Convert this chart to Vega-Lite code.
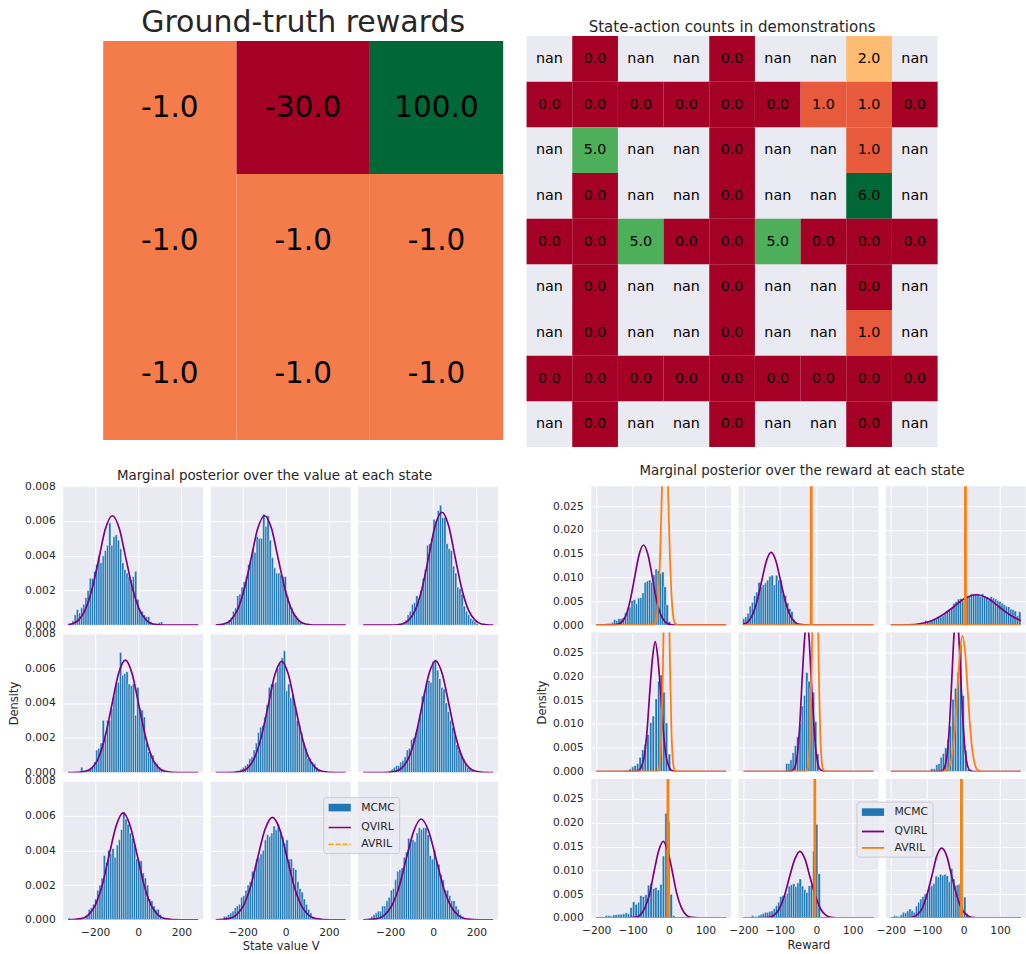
{
"$schema":"https://vega.github.io/schema/vega-lite/v6.json",
"background":"white",
"padding":{"left":8.2,"top":8,"right":0,"bottom":0},
"config":{
 "font":"DejaVu Sans",
 "view":{"stroke":null,"fill":"#eaeaf2"},
 "axis":{"domain":false,"ticks":false,"tickSize":0,"grid":true,"gridColor":"white","gridWidth":1,"gridOpacity":1,"labelFontSize":10.7,"labelColor":"#262626","labelFlush":false,"labelOverlap":false,"titleFontSize":11.5,"titleFontWeight":"normal","titleColor":"#262626"},
 "axisX":{"labelPadding":7.5,"titlePadding":4},
 "axisY":{"labelPadding":8,"titlePadding":5},
 "title":{"color":"#262626","fontWeight":"normal"}
},
"datasets":{
"gt":[{"r":0,"c":0,"v":-1,"t":"-1.0"},{"r":0,"c":1,"v":-30,"t":"-30.0"},{"r":0,"c":2,"v":100,"t":"100.0"},{"r":1,"c":0,"v":-1,"t":"-1.0"},{"r":1,"c":1,"v":-1,"t":"-1.0"},{"r":1,"c":2,"v":-1,"t":"-1.0"},{"r":2,"c":0,"v":-1,"t":"-1.0"},{"r":2,"c":1,"v":-1,"t":"-1.0"},{"r":2,"c":2,"v":-1,"t":"-1.0"}],
"sa":[
{"r":0,"c":0,"v":null,"t":"nan"},{"r":0,"c":1,"v":0,"t":"0.0"},{"r":0,"c":2,"v":null,"t":"nan"},{"r":0,"c":3,"v":null,"t":"nan"},{"r":0,"c":4,"v":0,"t":"0.0"},{"r":0,"c":5,"v":null,"t":"nan"},{"r":0,"c":6,"v":null,"t":"nan"},{"r":0,"c":7,"v":2,"t":"2.0"},{"r":0,"c":8,"v":null,"t":"nan"},
{"r":1,"c":0,"v":0,"t":"0.0"},{"r":1,"c":1,"v":0,"t":"0.0"},{"r":1,"c":2,"v":0,"t":"0.0"},{"r":1,"c":3,"v":0,"t":"0.0"},{"r":1,"c":4,"v":0,"t":"0.0"},{"r":1,"c":5,"v":0,"t":"0.0"},{"r":1,"c":6,"v":1,"t":"1.0"},{"r":1,"c":7,"v":1,"t":"1.0"},{"r":1,"c":8,"v":0,"t":"0.0"},
{"r":2,"c":0,"v":null,"t":"nan"},{"r":2,"c":1,"v":5,"t":"5.0"},{"r":2,"c":2,"v":null,"t":"nan"},{"r":2,"c":3,"v":null,"t":"nan"},{"r":2,"c":4,"v":0,"t":"0.0"},{"r":2,"c":5,"v":null,"t":"nan"},{"r":2,"c":6,"v":null,"t":"nan"},{"r":2,"c":7,"v":1,"t":"1.0"},{"r":2,"c":8,"v":null,"t":"nan"},
{"r":3,"c":0,"v":null,"t":"nan"},{"r":3,"c":1,"v":0,"t":"0.0"},{"r":3,"c":2,"v":null,"t":"nan"},{"r":3,"c":3,"v":null,"t":"nan"},{"r":3,"c":4,"v":0,"t":"0.0"},{"r":3,"c":5,"v":null,"t":"nan"},{"r":3,"c":6,"v":null,"t":"nan"},{"r":3,"c":7,"v":6,"t":"6.0"},{"r":3,"c":8,"v":null,"t":"nan"},
{"r":4,"c":0,"v":0,"t":"0.0"},{"r":4,"c":1,"v":0,"t":"0.0"},{"r":4,"c":2,"v":5,"t":"5.0"},{"r":4,"c":3,"v":0,"t":"0.0"},{"r":4,"c":4,"v":0,"t":"0.0"},{"r":4,"c":5,"v":5,"t":"5.0"},{"r":4,"c":6,"v":0,"t":"0.0"},{"r":4,"c":7,"v":0,"t":"0.0"},{"r":4,"c":8,"v":0,"t":"0.0"},
{"r":5,"c":0,"v":null,"t":"nan"},{"r":5,"c":1,"v":0,"t":"0.0"},{"r":5,"c":2,"v":null,"t":"nan"},{"r":5,"c":3,"v":null,"t":"nan"},{"r":5,"c":4,"v":0,"t":"0.0"},{"r":5,"c":5,"v":null,"t":"nan"},{"r":5,"c":6,"v":null,"t":"nan"},{"r":5,"c":7,"v":0,"t":"0.0"},{"r":5,"c":8,"v":null,"t":"nan"},
{"r":6,"c":0,"v":null,"t":"nan"},{"r":6,"c":1,"v":0,"t":"0.0"},{"r":6,"c":2,"v":null,"t":"nan"},{"r":6,"c":3,"v":null,"t":"nan"},{"r":6,"c":4,"v":0,"t":"0.0"},{"r":6,"c":5,"v":null,"t":"nan"},{"r":6,"c":6,"v":null,"t":"nan"},{"r":6,"c":7,"v":1,"t":"1.0"},{"r":6,"c":8,"v":null,"t":"nan"},
{"r":7,"c":0,"v":0,"t":"0.0"},{"r":7,"c":1,"v":0,"t":"0.0"},{"r":7,"c":2,"v":0,"t":"0.0"},{"r":7,"c":3,"v":0,"t":"0.0"},{"r":7,"c":4,"v":0,"t":"0.0"},{"r":7,"c":5,"v":0,"t":"0.0"},{"r":7,"c":6,"v":0,"t":"0.0"},{"r":7,"c":7,"v":0,"t":"0.0"},{"r":7,"c":8,"v":0,"t":"0.0"},
{"r":8,"c":0,"v":null,"t":"nan"},{"r":8,"c":1,"v":0,"t":"0.0"},{"r":8,"c":2,"v":null,"t":"nan"},{"r":8,"c":3,"v":null,"t":"nan"},{"r":8,"c":4,"v":0,"t":"0.0"},{"r":8,"c":5,"v":null,"t":"nan"},{"r":8,"c":6,"v":null,"t":"nan"},{"r":8,"c":7,"v":0,"t":"0.0"},{"r":8,"c":8,"v":null,"t":"nan"}],
"vh":[
{"p":1,"x":-312,"y":0.0001},{"p":1,"x":-302,"y":0.00025},{"p":1,"x":-292,"y":0.0006},{"p":1,"x":-282,"y":0.0009},{"p":1,"x":-272,"y":0.0007},{"p":1,"x":-262,"y":0.001},{"p":1,"x":-252,"y":0.0012},{"p":1,"x":-242,"y":0.0016},{"p":1,"x":-232,"y":0.002},{"p":1,"x":-222,"y":0.0027},{"p":1,"x":-212,"y":0.0027},{"p":1,"x":-202,"y":0.0031},{"p":1,"x":-192,"y":0.0035},{"p":1,"x":-182,"y":0.004},{"p":1,"x":-172,"y":0.0036},{"p":1,"x":-162,"y":0.004},{"p":1,"x":-152,"y":0.0043},{"p":1,"x":-142,"y":0.0046},{"p":1,"x":-132,"y":0.0059},{"p":1,"x":-122,"y":0.0046},{"p":1,"x":-112,"y":0.0051},{"p":1,"x":-102,"y":0.0052},{"p":1,"x":-92,"y":0.0049},{"p":1,"x":-82,"y":0.0044},{"p":1,"x":-72,"y":0.0036},{"p":1,"x":-62,"y":0.0032},{"p":1,"x":-52,"y":0.003},{"p":1,"x":-42,"y":0.0028},{"p":1,"x":-32,"y":0.0026},{"p":1,"x":-22,"y":0.0028},{"p":1,"x":-12,"y":0.0031},{"p":1,"x":-2,"y":0.0015},{"p":1,"x":8,"y":0.0009},{"p":1,"x":18,"y":0.0008},{"p":1,"x":28,"y":0.0006},{"p":1,"x":38,"y":0.0005},{"p":1,"x":48,"y":0.0005},{"p":1,"x":58,"y":0.0002},{"p":1,"x":68,"y":0.0001},{"p":1,"x":78,"y":0.00005},{"p":1,"x":88,"y":0.0001},{"p":1,"x":98,"y":0.00015},{"p":1,"x":108,"y":0.0002},
{"p":2,"x":-312,"y":0.00005},{"p":2,"x":-302,"y":0.00005},{"p":2,"x":-292,"y":0.0001},{"p":2,"x":-282,"y":0.00015},{"p":2,"x":-272,"y":0.0002},{"p":2,"x":-262,"y":0.0003},{"p":2,"x":-252,"y":0.00045},{"p":2,"x":-242,"y":0.0008},{"p":2,"x":-232,"y":0.001},{"p":2,"x":-222,"y":0.0017},{"p":2,"x":-212,"y":0.0018},{"p":2,"x":-202,"y":0.0022},{"p":2,"x":-192,"y":0.0025},{"p":2,"x":-182,"y":0.0028},{"p":2,"x":-172,"y":0.0035},{"p":2,"x":-162,"y":0.0037},{"p":2,"x":-152,"y":0.0044},{"p":2,"x":-142,"y":0.0042},{"p":2,"x":-132,"y":0.0051},{"p":2,"x":-122,"y":0.005},{"p":2,"x":-112,"y":0.005},{"p":2,"x":-102,"y":0.0064},{"p":2,"x":-92,"y":0.0057},{"p":2,"x":-82,"y":0.0063},{"p":2,"x":-72,"y":0.0049},{"p":2,"x":-62,"y":0.0039},{"p":2,"x":-52,"y":0.0033},{"p":2,"x":-42,"y":0.003},{"p":2,"x":-32,"y":0.003},{"p":2,"x":-22,"y":0.0029},{"p":2,"x":-12,"y":0.0028},{"p":2,"x":-2,"y":0.0028},{"p":2,"x":8,"y":0.0017},{"p":2,"x":18,"y":0.0012},{"p":2,"x":28,"y":0.001},{"p":2,"x":38,"y":0.0007},{"p":2,"x":48,"y":0.0005},{"p":2,"x":58,"y":0.0003},{"p":2,"x":68,"y":0.0002},
{"p":3,"x":-146,"y":0.0001},{"p":3,"x":-136,"y":0.0002},{"p":3,"x":-126,"y":0.0003},{"p":3,"x":-116,"y":0.0006},{"p":3,"x":-106,"y":0.0008},{"p":3,"x":-96,"y":0.0012},{"p":3,"x":-86,"y":0.0013},{"p":3,"x":-76,"y":0.0017},{"p":3,"x":-66,"y":0.0014},{"p":3,"x":-56,"y":0.002},{"p":3,"x":-46,"y":0.0027},{"p":3,"x":-36,"y":0.0032},{"p":3,"x":-26,"y":0.0046},{"p":3,"x":-16,"y":0.0047},{"p":3,"x":-6,"y":0.005},{"p":3,"x":4,"y":0.0061},{"p":3,"x":14,"y":0.006},{"p":3,"x":24,"y":0.0066},{"p":3,"x":34,"y":0.0069},{"p":3,"x":44,"y":0.0062},{"p":3,"x":54,"y":0.0062},{"p":3,"x":64,"y":0.0047},{"p":3,"x":74,"y":0.0044},{"p":3,"x":84,"y":0.0043},{"p":3,"x":94,"y":0.0034},{"p":3,"x":104,"y":0.003},{"p":3,"x":114,"y":0.0022},{"p":3,"x":124,"y":0.0021},{"p":3,"x":134,"y":0.0018},{"p":3,"x":144,"y":0.0011},{"p":3,"x":154,"y":0.0008},{"p":3,"x":164,"y":0.0006},{"p":3,"x":174,"y":0.0004},{"p":3,"x":184,"y":0.0003},{"p":3,"x":194,"y":0.0002},{"p":3,"x":204,"y":0.0001},
{"p":4,"x":-262,"y":0.0003},{"p":4,"x":-252,"y":0.0001},{"p":4,"x":-242,"y":0.0001},{"p":4,"x":-232,"y":0.0001},{"p":4,"x":-222,"y":0.0002},{"p":4,"x":-212,"y":0.0003},{"p":4,"x":-202,"y":0.0006},{"p":4,"x":-192,"y":0.0013},{"p":4,"x":-182,"y":0.0014},{"p":4,"x":-172,"y":0.0017},{"p":4,"x":-162,"y":0.003},{"p":4,"x":-152,"y":0.002},{"p":4,"x":-142,"y":0.003},{"p":4,"x":-132,"y":0.003},{"p":4,"x":-122,"y":0.0037},{"p":4,"x":-112,"y":0.0044},{"p":4,"x":-102,"y":0.0051},{"p":4,"x":-92,"y":0.0052},{"p":4,"x":-82,"y":0.0069},{"p":4,"x":-72,"y":0.0056},{"p":4,"x":-62,"y":0.0057},{"p":4,"x":-52,"y":0.0058},{"p":4,"x":-42,"y":0.0051},{"p":4,"x":-32,"y":0.005},{"p":4,"x":-22,"y":0.0051},{"p":4,"x":-12,"y":0.0033},{"p":4,"x":-2,"y":0.0049},{"p":4,"x":8,"y":0.0037},{"p":4,"x":18,"y":0.0036},{"p":4,"x":28,"y":0.0032},{"p":4,"x":38,"y":0.0017},{"p":4,"x":48,"y":0.0012},{"p":4,"x":58,"y":0.0011},{"p":4,"x":68,"y":0.001},{"p":4,"x":78,"y":0.0006},{"p":4,"x":88,"y":0.0005},{"p":4,"x":98,"y":0.0003},{"p":4,"x":108,"y":0.0002},{"p":4,"x":118,"y":0.0001},
{"p":5,"x":-226,"y":0.0001},{"p":5,"x":-216,"y":0.0001},{"p":5,"x":-206,"y":0.0002},{"p":5,"x":-196,"y":0.0003},{"p":5,"x":-186,"y":0.0004},{"p":5,"x":-176,"y":0.0005},{"p":5,"x":-166,"y":0.0008},{"p":5,"x":-156,"y":0.0009},{"p":5,"x":-146,"y":0.0013},{"p":5,"x":-136,"y":0.0017},{"p":5,"x":-126,"y":0.0023},{"p":5,"x":-116,"y":0.0026},{"p":5,"x":-106,"y":0.0027},{"p":5,"x":-96,"y":0.0032},{"p":5,"x":-86,"y":0.0039},{"p":5,"x":-76,"y":0.0049},{"p":5,"x":-66,"y":0.0051},{"p":5,"x":-56,"y":0.0051},{"p":5,"x":-46,"y":0.0052},{"p":5,"x":-36,"y":0.006},{"p":5,"x":-26,"y":0.0063},{"p":5,"x":-16,"y":0.0066},{"p":5,"x":-6,"y":0.007},{"p":5,"x":4,"y":0.0047},{"p":5,"x":14,"y":0.0051},{"p":5,"x":24,"y":0.0043},{"p":5,"x":34,"y":0.0045},{"p":5,"x":44,"y":0.0038},{"p":5,"x":54,"y":0.003},{"p":5,"x":64,"y":0.0027},{"p":5,"x":74,"y":0.0023},{"p":5,"x":84,"y":0.0017},{"p":5,"x":94,"y":0.0014},{"p":5,"x":104,"y":0.0008},{"p":5,"x":114,"y":0.0008},{"p":5,"x":124,"y":0.0006},{"p":5,"x":134,"y":0.0005},{"p":5,"x":144,"y":0.0003},{"p":5,"x":154,"y":0.0001},
{"p":6,"x":-200,"y":0.0001},{"p":6,"x":-190,"y":0.0002},{"p":6,"x":-180,"y":0.0003},{"p":6,"x":-170,"y":0.0004},{"p":6,"x":-160,"y":0.0004},{"p":6,"x":-150,"y":0.0006},{"p":6,"x":-140,"y":0.0007},{"p":6,"x":-130,"y":0.0009},{"p":6,"x":-120,"y":0.0013},{"p":6,"x":-110,"y":0.0014},{"p":6,"x":-100,"y":0.0019},{"p":6,"x":-90,"y":0.002},{"p":6,"x":-80,"y":0.0023},{"p":6,"x":-70,"y":0.0027},{"p":6,"x":-60,"y":0.0032},{"p":6,"x":-50,"y":0.0044},{"p":6,"x":-40,"y":0.0046},{"p":6,"x":-30,"y":0.0052},{"p":6,"x":-20,"y":0.0053},{"p":6,"x":-10,"y":0.0052},{"p":6,"x":0,"y":0.0064},{"p":6,"x":10,"y":0.0065},{"p":6,"x":20,"y":0.0059},{"p":6,"x":30,"y":0.0054},{"p":6,"x":40,"y":0.0049},{"p":6,"x":50,"y":0.0048},{"p":6,"x":60,"y":0.004},{"p":6,"x":70,"y":0.0035},{"p":6,"x":80,"y":0.003},{"p":6,"x":90,"y":0.0026},{"p":6,"x":100,"y":0.0022},{"p":6,"x":110,"y":0.0016},{"p":6,"x":120,"y":0.0013},{"p":6,"x":130,"y":0.0011},{"p":6,"x":140,"y":0.0008},{"p":6,"x":150,"y":0.0005},{"p":6,"x":160,"y":0.0003},{"p":6,"x":170,"y":0.0002},{"p":6,"x":180,"y":0.0001},
{"p":7,"x":-320,"y":0.0001},{"p":7,"x":-267,"y":0.00005},{"p":7,"x":-257,"y":0.0001},{"p":7,"x":-247,"y":0.0001},{"p":7,"x":-237,"y":0.0003},{"p":7,"x":-227,"y":0.0006},{"p":7,"x":-217,"y":0.0007},{"p":7,"x":-207,"y":0.0009},{"p":7,"x":-197,"y":0.0012},{"p":7,"x":-187,"y":0.0017},{"p":7,"x":-177,"y":0.002},{"p":7,"x":-167,"y":0.0024},{"p":7,"x":-157,"y":0.0037},{"p":7,"x":-147,"y":0.0033},{"p":7,"x":-137,"y":0.004},{"p":7,"x":-127,"y":0.0038},{"p":7,"x":-117,"y":0.0041},{"p":7,"x":-107,"y":0.0036},{"p":7,"x":-97,"y":0.0043},{"p":7,"x":-87,"y":0.0046},{"p":7,"x":-77,"y":0.0052},{"p":7,"x":-67,"y":0.0062},{"p":7,"x":-57,"y":0.0058},{"p":7,"x":-47,"y":0.0055},{"p":7,"x":-37,"y":0.005},{"p":7,"x":-27,"y":0.0047},{"p":7,"x":-17,"y":0.0043},{"p":7,"x":-7,"y":0.0035},{"p":7,"x":3,"y":0.0034},{"p":7,"x":13,"y":0.0034},{"p":7,"x":23,"y":0.0027},{"p":7,"x":33,"y":0.0024},{"p":7,"x":43,"y":0.002},{"p":7,"x":53,"y":0.0012},{"p":7,"x":63,"y":0.0011},{"p":7,"x":73,"y":0.0008},{"p":7,"x":83,"y":0.0006},{"p":7,"x":93,"y":0.0006},{"p":7,"x":103,"y":0.0003},{"p":7,"x":113,"y":0.0001},{"p":7,"x":123,"y":0.0001},
{"p":8,"x":-284,"y":0.0002},{"p":8,"x":-274,"y":0.0002},{"p":8,"x":-264,"y":0.0003},{"p":8,"x":-254,"y":0.0004},{"p":8,"x":-244,"y":0.0005},{"p":8,"x":-234,"y":0.0007},{"p":8,"x":-224,"y":0.0008},{"p":8,"x":-214,"y":0.0009},{"p":8,"x":-204,"y":0.0013},{"p":8,"x":-194,"y":0.0014},{"p":8,"x":-184,"y":0.0017},{"p":8,"x":-174,"y":0.002},{"p":8,"x":-164,"y":0.0022},{"p":8,"x":-154,"y":0.0028},{"p":8,"x":-144,"y":0.0029},{"p":8,"x":-134,"y":0.0035},{"p":8,"x":-124,"y":0.0036},{"p":8,"x":-114,"y":0.0038},{"p":8,"x":-104,"y":0.004},{"p":8,"x":-94,"y":0.0046},{"p":8,"x":-84,"y":0.0049},{"p":8,"x":-74,"y":0.0048},{"p":8,"x":-64,"y":0.005},{"p":8,"x":-54,"y":0.0054},{"p":8,"x":-44,"y":0.0052},{"p":8,"x":-34,"y":0.0055},{"p":8,"x":-24,"y":0.0051},{"p":8,"x":-14,"y":0.0048},{"p":8,"x":-4,"y":0.0044},{"p":8,"x":6,"y":0.0046},{"p":8,"x":16,"y":0.0035},{"p":8,"x":26,"y":0.0035},{"p":8,"x":36,"y":0.003},{"p":8,"x":46,"y":0.0029},{"p":8,"x":56,"y":0.0022},{"p":8,"x":66,"y":0.0018},{"p":8,"x":76,"y":0.0016},{"p":8,"x":86,"y":0.0012},{"p":8,"x":96,"y":0.0009},{"p":8,"x":106,"y":0.0006},{"p":8,"x":116,"y":0.0004},{"p":8,"x":126,"y":0.0002},{"p":8,"x":136,"y":0.0001},
{"p":9,"x":-294,"y":0.0001},{"p":9,"x":-284,"y":0.0002},{"p":9,"x":-274,"y":0.0003},{"p":9,"x":-264,"y":0.0004},{"p":9,"x":-254,"y":0.0005},{"p":9,"x":-244,"y":0.0005},{"p":9,"x":-234,"y":0.0008},{"p":9,"x":-224,"y":0.0008},{"p":9,"x":-214,"y":0.0011},{"p":9,"x":-204,"y":0.0013},{"p":9,"x":-194,"y":0.0017},{"p":9,"x":-184,"y":0.0018},{"p":9,"x":-174,"y":0.0023},{"p":9,"x":-164,"y":0.0028},{"p":9,"x":-154,"y":0.0029},{"p":9,"x":-144,"y":0.003},{"p":9,"x":-134,"y":0.0036},{"p":9,"x":-124,"y":0.0039},{"p":9,"x":-114,"y":0.0047},{"p":9,"x":-104,"y":0.0045},{"p":9,"x":-94,"y":0.0046},{"p":9,"x":-84,"y":0.0045},{"p":9,"x":-74,"y":0.005},{"p":9,"x":-64,"y":0.0053},{"p":9,"x":-54,"y":0.0052},{"p":9,"x":-44,"y":0.0053},{"p":9,"x":-34,"y":0.0053},{"p":9,"x":-24,"y":0.0049},{"p":9,"x":-14,"y":0.0037},{"p":9,"x":-4,"y":0.0035},{"p":9,"x":6,"y":0.004},{"p":9,"x":16,"y":0.0034},{"p":9,"x":26,"y":0.0032},{"p":9,"x":36,"y":0.0026},{"p":9,"x":46,"y":0.0023},{"p":9,"x":56,"y":0.0017},{"p":9,"x":66,"y":0.0017},{"p":9,"x":76,"y":0.0014},{"p":9,"x":86,"y":0.0011},{"p":9,"x":96,"y":0.0011},{"p":9,"x":106,"y":0.0008},{"p":9,"x":116,"y":0.0006},{"p":9,"x":126,"y":0.0003},{"p":9,"x":136,"y":0.0002},{"p":9,"x":146,"y":0.0001}],
"vq":[
{"p":1,"x":-325,"y":0.00003},{"p":1,"x":-310,"y":0.00007},{"p":1,"x":-278,"y":0.00028},{"p":1,"x":-247,"y":0.00085},{"p":1,"x":-215,"y":0.00205},{"p":1,"x":-183,"y":0.00382},{"p":1,"x":-152,"y":0.00556},{"p":1,"x":-120,"y":0.0063},{"p":1,"x":-88,"y":0.00556},{"p":1,"x":-57,"y":0.00382},{"p":1,"x":-25,"y":0.00205},{"p":1,"x":7,"y":0.00085},{"p":1,"x":38,"y":0.00028},{"p":1,"x":70,"y":0.00007},{"p":1,"x":133,"y":0},{"p":1,"x":278,"y":0},
{"p":2,"x":-325,"y":0.00001},{"p":2,"x":-288,"y":0.00007},{"p":2,"x":-256,"y":0.00028},{"p":2,"x":-225,"y":0.00085},{"p":2,"x":-193,"y":0.00205},{"p":2,"x":-161,"y":0.00382},{"p":2,"x":-130,"y":0.00556},{"p":2,"x":-98,"y":0.0063},{"p":2,"x":-66,"y":0.00556},{"p":2,"x":-35,"y":0.00382},{"p":2,"x":-3,"y":0.00205},{"p":2,"x":29,"y":0.00085},{"p":2,"x":60,"y":0.00028},{"p":2,"x":92,"y":0.00007},{"p":2,"x":155,"y":0},{"p":2,"x":278,"y":0},
{"p":3,"x":-325,"y":0},{"p":3,"x":-206,"y":0},{"p":3,"x":-144,"y":0.00007},{"p":3,"x":-114,"y":0.00029},{"p":3,"x":-83,"y":0.00088},{"p":3,"x":-52,"y":0.00211},{"p":3,"x":-21,"y":0.00394},{"p":3,"x":9,"y":0.00574},{"p":3,"x":40,"y":0.0065},{"p":3,"x":71,"y":0.00574},{"p":3,"x":101,"y":0.00394},{"p":3,"x":132,"y":0.00211},{"p":3,"x":163,"y":0.00088},{"p":3,"x":194,"y":0.00029},{"p":3,"x":224,"y":0.00007},{"p":3,"x":278,"y":0},
{"p":4,"x":-325,"y":0},{"p":4,"x":-307,"y":0},{"p":4,"x":-245,"y":0.00007},{"p":4,"x":-214,"y":0.00028},{"p":4,"x":-183,"y":0.00088},{"p":4,"x":-153,"y":0.0021},{"p":4,"x":-122,"y":0.00392},{"p":4,"x":-91,"y":0.00571},{"p":4,"x":-60,"y":0.00647},{"p":4,"x":-29,"y":0.00571},{"p":4,"x":2,"y":0.00392},{"p":4,"x":33,"y":0.0021},{"p":4,"x":63,"y":0.00088},{"p":4,"x":94,"y":0.00028},{"p":4,"x":125,"y":0.00007},{"p":4,"x":187,"y":0},{"p":4,"x":278,"y":0},
{"p":5,"x":-325,"y":0},{"p":5,"x":-268,"y":0},{"p":5,"x":-206,"y":0.00007},{"p":5,"x":-175,"y":0.00028},{"p":5,"x":-144,"y":0.00087},{"p":5,"x":-113,"y":0.00208},{"p":5,"x":-81,"y":0.00388},{"p":5,"x":-50,"y":0.00565},{"p":5,"x":-19,"y":0.0064},{"p":5,"x":12,"y":0.00565},{"p":5,"x":43,"y":0.00388},{"p":5,"x":75,"y":0.00208},{"p":5,"x":106,"y":0.00087},{"p":5,"x":137,"y":0.00028},{"p":5,"x":168,"y":0.00007},{"p":5,"x":230,"y":0},{"p":5,"x":278,"y":0},
{"p":6,"x":-325,"y":0},{"p":6,"x":-237,"y":0},{"p":6,"x":-175,"y":0.00007},{"p":6,"x":-144,"y":0.00028},{"p":6,"x":-113,"y":0.00087},{"p":6,"x":-82,"y":0.00209},{"p":6,"x":-51,"y":0.0039},{"p":6,"x":-20,"y":0.00567},{"p":6,"x":11,"y":0.00643},{"p":6,"x":42,"y":0.00567},{"p":6,"x":73,"y":0.0039},{"p":6,"x":104,"y":0.00209},{"p":6,"x":135,"y":0.00087},{"p":6,"x":166,"y":0.00028},{"p":6,"x":197,"y":0.00007},{"p":6,"x":259,"y":0},{"p":6,"x":278,"y":0},
{"p":7,"x":-325,"y":0},{"p":7,"x":-265,"y":0.00007},{"p":7,"x":-232,"y":0.00027},{"p":7,"x":-200,"y":0.00083},{"p":7,"x":-167,"y":0.002},{"p":7,"x":-135,"y":0.00373},{"p":7,"x":-102,"y":0.00543},{"p":7,"x":-70,"y":0.00615},{"p":7,"x":-38,"y":0.00543},{"p":7,"x":-5,"y":0.00373},{"p":7,"x":27,"y":0.002},{"p":7,"x":60,"y":0.00083},{"p":7,"x":92,"y":0.00027},{"p":7,"x":125,"y":0.00007},{"p":7,"x":190,"y":0},{"p":7,"x":278,"y":0},
{"p":8,"x":-325,"y":0},{"p":8,"x":-265,"y":0.00007},{"p":8,"x":-231,"y":0.00026},{"p":8,"x":-197,"y":0.0008},{"p":8,"x":-163,"y":0.00192},{"p":8,"x":-130,"y":0.00358},{"p":8,"x":-96,"y":0.00521},{"p":8,"x":-62,"y":0.0059},{"p":8,"x":-28,"y":0.00521},{"p":8,"x":6,"y":0.00358},{"p":8,"x":39,"y":0.00192},{"p":8,"x":73,"y":0.0008},{"p":8,"x":107,"y":0.00026},{"p":8,"x":141,"y":0.00007},{"p":8,"x":208,"y":0},{"p":8,"x":278,"y":0},
{"p":9,"x":-325,"y":0},{"p":9,"x":-262,"y":0.00006},{"p":9,"x":-228,"y":0.00025},{"p":9,"x":-194,"y":0.00078},{"p":9,"x":-159,"y":0.00188},{"p":9,"x":-125,"y":0.00352},{"p":9,"x":-90,"y":0.00512},{"p":9,"x":-56,"y":0.0058},{"p":9,"x":-22,"y":0.00512},{"p":9,"x":13,"y":0.00352},{"p":9,"x":47,"y":0.00188},{"p":9,"x":82,"y":0.00078},{"p":9,"x":116,"y":0.00025},{"p":9,"x":150,"y":0.00006},{"p":9,"x":219,"y":0},{"p":9,"x":278,"y":0}],
"va":[{"p":1,"x":-6},{"p":2,"x":-2},{"p":3,"x":11},{"p":4,"x":1},{"p":5,"x":8},{"p":6,"x":11},{"p":7,"x":0},{"p":8,"x":2},{"p":9,"x":3}],
"rh":[
{"p":1,"x":-191,"y":0.0001},{"p":1,"x":-185,"y":0.0002},{"p":1,"x":-179,"y":0.0002},{"p":1,"x":-173,"y":0.0003},{"p":1,"x":-167,"y":0.0004},{"p":1,"x":-161,"y":0.0004},{"p":1,"x":-155,"y":0.0006},{"p":1,"x":-149,"y":0.0012},{"p":1,"x":-143,"y":0.001},{"p":1,"x":-137,"y":0.0014},{"p":1,"x":-131,"y":0.0014},{"p":1,"x":-125,"y":0.0016},{"p":1,"x":-119,"y":0.0026},{"p":1,"x":-113,"y":0.0034},{"p":1,"x":-107,"y":0.0038},{"p":1,"x":-101,"y":0.0052},{"p":1,"x":-95,"y":0.0054},{"p":1,"x":-89,"y":0.0045},{"p":1,"x":-83,"y":0.0057},{"p":1,"x":-77,"y":0.0058},{"p":1,"x":-71,"y":0.0068},{"p":1,"x":-65,"y":0.009},{"p":1,"x":-59,"y":0.0093},{"p":1,"x":-53,"y":0.0095},{"p":1,"x":-47,"y":0.009},{"p":1,"x":-41,"y":0.0106},{"p":1,"x":-35,"y":0.0118},{"p":1,"x":-29,"y":0.0115},{"p":1,"x":-23,"y":0.0108},{"p":1,"x":-17,"y":0.0112},{"p":1,"x":-11,"y":0.0081},{"p":1,"x":-5,"y":0.0043},{"p":1,"x":1,"y":0.0008},
{"p":2,"x":-199,"y":0.0014},{"p":2,"x":-193,"y":0.0018},{"p":2,"x":-187,"y":0.0025},{"p":2,"x":-181,"y":0.004},{"p":2,"x":-175,"y":0.0048},{"p":2,"x":-169,"y":0.0062},{"p":2,"x":-163,"y":0.007},{"p":2,"x":-157,"y":0.009},{"p":2,"x":-151,"y":0.0081},{"p":2,"x":-145,"y":0.0085},{"p":2,"x":-139,"y":0.0089},{"p":2,"x":-133,"y":0.0095},{"p":2,"x":-127,"y":0.0103},{"p":2,"x":-121,"y":0.0105},{"p":2,"x":-115,"y":0.0085},{"p":2,"x":-109,"y":0.0105},{"p":2,"x":-103,"y":0.0095},{"p":2,"x":-97,"y":0.0095},{"p":2,"x":-91,"y":0.0067},{"p":2,"x":-85,"y":0.0063},{"p":2,"x":-79,"y":0.0047},{"p":2,"x":-73,"y":0.0035},{"p":2,"x":-67,"y":0.0029},{"p":2,"x":-61,"y":0.0012},{"p":2,"x":-55,"y":0.0006},{"p":2,"x":-49,"y":0.0003},
{"p":3,"x":-104,"y":0.001},{"p":3,"x":-98,"y":0.0008},{"p":3,"x":-92,"y":0.0009},{"p":3,"x":-86,"y":0.0011},{"p":3,"x":-80,"y":0.0013},{"p":3,"x":-74,"y":0.0013},{"p":3,"x":-68,"y":0.0016},{"p":3,"x":-62,"y":0.0017},{"p":3,"x":-56,"y":0.002},{"p":3,"x":-50,"y":0.0024},{"p":3,"x":-44,"y":0.0032},{"p":3,"x":-38,"y":0.0031},{"p":3,"x":-32,"y":0.0035},{"p":3,"x":-26,"y":0.0046},{"p":3,"x":-20,"y":0.005},{"p":3,"x":-14,"y":0.0055},{"p":3,"x":-8,"y":0.0056},{"p":3,"x":-2,"y":0.0051},{"p":3,"x":4,"y":0.0057},{"p":3,"x":10,"y":0.006},{"p":3,"x":16,"y":0.0062},{"p":3,"x":22,"y":0.0066},{"p":3,"x":28,"y":0.0066},{"p":3,"x":34,"y":0.0066},{"p":3,"x":40,"y":0.0065},{"p":3,"x":46,"y":0.0061},{"p":3,"x":52,"y":0.0066},{"p":3,"x":58,"y":0.0061},{"p":3,"x":64,"y":0.006},{"p":3,"x":70,"y":0.0053},{"p":3,"x":76,"y":0.006},{"p":3,"x":82,"y":0.0057},{"p":3,"x":88,"y":0.0055},{"p":3,"x":94,"y":0.0052},{"p":3,"x":100,"y":0.005},{"p":3,"x":106,"y":0.0046},{"p":3,"x":112,"y":0.0043},{"p":3,"x":118,"y":0.004},{"p":3,"x":124,"y":0.0039},{"p":3,"x":130,"y":0.0034},{"p":3,"x":136,"y":0.0033},{"p":3,"x":142,"y":0.003},{"p":3,"x":148,"y":0.002},{"p":3,"x":154,"y":0.0028},
{"p":4,"x":-119,"y":0.0003},{"p":4,"x":-113,"y":0.0003},{"p":4,"x":-106,"y":0.0006},{"p":4,"x":-99,"y":0.001},{"p":4,"x":-93,"y":0.0013},{"p":4,"x":-86,"y":0.0017},{"p":4,"x":-79,"y":0.003},{"p":4,"x":-72,"y":0.0046},{"p":4,"x":-65,"y":0.0058},{"p":4,"x":-58,"y":0.0078},{"p":4,"x":-50,"y":0.0103},{"p":4,"x":-43,"y":0.0117},{"p":4,"x":-35,"y":0.0153},{"p":4,"x":-28,"y":0.019},{"p":4,"x":-21,"y":0.0203},{"p":4,"x":-14,"y":0.0167},{"p":4,"x":-7,"y":0.0102},{"p":4,"x":1,"y":0.0037},
{"p":5,"x":-87,"y":0.0002},{"p":5,"x":-81,"y":0.0017},{"p":5,"x":-75,"y":0.0017},{"p":5,"x":-69,"y":0.0025},{"p":5,"x":-63,"y":0.004},{"p":5,"x":-57,"y":0.0055},{"p":5,"x":-51,"y":0.0073},{"p":5,"x":-44,"y":0.01},{"p":5,"x":-38,"y":0.0138},{"p":5,"x":-32,"y":0.016},{"p":5,"x":-26,"y":0.0208},{"p":5,"x":-20,"y":0.019},{"p":5,"x":-14,"y":0.0176},{"p":5,"x":-8,"y":0.0167},{"p":5,"x":-2,"y":0.0105},{"p":5,"x":4,"y":0.0037},{"p":5,"x":10,"y":0.0002},
{"p":6,"x":-87,"y":0.0006},{"p":6,"x":-80,"y":0.0006},{"p":6,"x":-73,"y":0.0015},{"p":6,"x":-67,"y":0.0017},{"p":6,"x":-61,"y":0.003},{"p":6,"x":-55,"y":0.0038},{"p":6,"x":-49,"y":0.005},{"p":6,"x":-42,"y":0.0068},{"p":6,"x":-36,"y":0.0096},{"p":6,"x":-29,"y":0.0152},{"p":6,"x":-22,"y":0.0175},{"p":6,"x":-15,"y":0.0208},{"p":6,"x":-8,"y":0.0267},{"p":6,"x":-1,"y":0.016},{"p":6,"x":6,"y":0.0045},{"p":6,"x":13,"y":0.0005},
{"p":7,"x":-172,"y":0.0005},{"p":7,"x":-165,"y":0.0005},{"p":7,"x":-158,"y":0.0004},{"p":7,"x":-151,"y":0.0007},{"p":7,"x":-145,"y":0.0007},{"p":7,"x":-138,"y":0.0008},{"p":7,"x":-131,"y":0.0008},{"p":7,"x":-124,"y":0.0009},{"p":7,"x":-117,"y":0.0011},{"p":7,"x":-111,"y":0.0009},{"p":7,"x":-104,"y":0.0022},{"p":7,"x":-97,"y":0.0034},{"p":7,"x":-90,"y":0.0029},{"p":7,"x":-83,"y":0.0033},{"p":7,"x":-77,"y":0.0047},{"p":7,"x":-70,"y":0.0045},{"p":7,"x":-63,"y":0.0049},{"p":7,"x":-56,"y":0.0069},{"p":7,"x":-49,"y":0.0073},{"p":7,"x":-42,"y":0.0062},{"p":7,"x":-36,"y":0.0064},{"p":7,"x":-29,"y":0.0059},{"p":7,"x":-22,"y":0.0071},{"p":7,"x":-15,"y":0.013},{"p":7,"x":-8,"y":0.022},{"p":7,"x":-1,"y":0.0203},{"p":7,"x":6,"y":0.005},{"p":7,"x":13,"y":0.0005},
{"p":8,"x":-175,"y":0.0005},{"p":8,"x":-169,"y":0.0003},{"p":8,"x":-163,"y":0.0003},{"p":8,"x":-157,"y":0.0006},{"p":8,"x":-151,"y":0.0008},{"p":8,"x":-145,"y":0.001},{"p":8,"x":-139,"y":0.0012},{"p":8,"x":-133,"y":0.0012},{"p":8,"x":-127,"y":0.0014},{"p":8,"x":-121,"y":0.0015},{"p":8,"x":-115,"y":0.002},{"p":8,"x":-109,"y":0.0026},{"p":8,"x":-103,"y":0.0033},{"p":8,"x":-97,"y":0.0045},{"p":8,"x":-91,"y":0.0047},{"p":8,"x":-85,"y":0.0047},{"p":8,"x":-79,"y":0.0052},{"p":8,"x":-74,"y":0.0067},{"p":8,"x":-68,"y":0.007},{"p":8,"x":-62,"y":0.0072},{"p":8,"x":-56,"y":0.0066},{"p":8,"x":-50,"y":0.0074},{"p":8,"x":-44,"y":0.0082},{"p":8,"x":-38,"y":0.0067},{"p":8,"x":-32,"y":0.006},{"p":8,"x":-26,"y":0.0054},{"p":8,"x":-19,"y":0.0068},{"p":8,"x":-13,"y":0.0069},{"p":8,"x":-7,"y":0.014},{"p":8,"x":1,"y":0.0197},{"p":8,"x":8,"y":0.0093},
{"p":9,"x":-189,"y":0.0005},{"p":9,"x":-183,"y":0.0004},{"p":9,"x":-177,"y":0.0003},{"p":9,"x":-171,"y":0.0007},{"p":9,"x":-165,"y":0.0012},{"p":9,"x":-159,"y":0.0011},{"p":9,"x":-153,"y":0.0015},{"p":9,"x":-147,"y":0.0019},{"p":9,"x":-141,"y":0.0015},{"p":9,"x":-135,"y":0.0012},{"p":9,"x":-129,"y":0.0025},{"p":9,"x":-123,"y":0.0033},{"p":9,"x":-117,"y":0.004},{"p":9,"x":-111,"y":0.0045},{"p":9,"x":-105,"y":0.0051},{"p":9,"x":-99,"y":0.0052},{"p":9,"x":-93,"y":0.0066},{"p":9,"x":-87,"y":0.0068},{"p":9,"x":-81,"y":0.0073},{"p":9,"x":-75,"y":0.0088},{"p":9,"x":-69,"y":0.0086},{"p":9,"x":-63,"y":0.0092},{"p":9,"x":-57,"y":0.009},{"p":9,"x":-51,"y":0.0092},{"p":9,"x":-45,"y":0.0089},{"p":9,"x":-39,"y":0.0076},{"p":9,"x":-33,"y":0.0104},{"p":9,"x":-27,"y":0.0082},{"p":9,"x":-21,"y":0.0069},{"p":9,"x":-15,"y":0.007},{"p":9,"x":-9,"y":0.0072},{"p":9,"x":-3,"y":0.0025},{"p":9,"x":3,"y":0.0044},{"p":9,"x":9,"y":0.001}],
"rq":[
{"p":1,"x":-200,"y":0},{"p":1,"x":-165,"y":0.00001},{"p":1,"x":-141,"y":0.00019},{"p":1,"x":-129,"y":0.00074},{"p":1,"x":-117,"y":0.00228},{"p":1,"x":-106,"y":0.00547},{"p":1,"x":-94,"y":0.01022},{"p":1,"x":-82,"y":0.01487},{"p":1,"x":-70,"y":0.01685},{"p":1,"x":-58,"y":0.01487},{"p":1,"x":-46,"y":0.01022},{"p":1,"x":-35,"y":0.00547},{"p":1,"x":-23,"y":0.00228},{"p":1,"x":-11,"y":0.00074},{"p":1,"x":1,"y":0.00019},{"p":1,"x":25,"y":0.00001},{"p":1,"x":157,"y":0},
{"p":2,"x":-200,"y":0.00022},{"p":2,"x":-189,"y":0.00067},{"p":2,"x":-176,"y":0.00207},{"p":2,"x":-163,"y":0.00497},{"p":2,"x":-150,"y":0.00928},{"p":2,"x":-137,"y":0.0135},{"p":2,"x":-124,"y":0.0153},{"p":2,"x":-111,"y":0.0135},{"p":2,"x":-98,"y":0.00928},{"p":2,"x":-85,"y":0.00497},{"p":2,"x":-72,"y":0.00207},{"p":2,"x":-59,"y":0.00067},{"p":2,"x":-46,"y":0.00017},{"p":2,"x":-20,"y":0},{"p":2,"x":157,"y":0},
{"p":3,"x":-200,"y":0.00001},{"p":3,"x":-152,"y":0.00007},{"p":3,"x":-121,"y":0.00028},{"p":3,"x":-90,"y":0.00087},{"p":3,"x":-59,"y":0.00208},{"p":3,"x":-27,"y":0.00388},{"p":3,"x":4,"y":0.00565},{"p":3,"x":35,"y":0.0064},{"p":3,"x":66,"y":0.00565},{"p":3,"x":97,"y":0.00388},{"p":3,"x":129,"y":0.00208},{"p":3,"x":157,"y":0.00094},
{"p":4,"x":-200,"y":0},{"p":4,"x":-96,"y":0.00001},{"p":4,"x":-82,"y":0.0003},{"p":4,"x":-75,"y":0.0012},{"p":4,"x":-67,"y":0.00369},{"p":4,"x":-60,"y":0.00886},{"p":4,"x":-53,"y":0.01656},{"p":4,"x":-45,"y":0.0241},{"p":4,"x":-38,"y":0.0273},{"p":4,"x":-31,"y":0.0241},{"p":4,"x":-23,"y":0.01656},{"p":4,"x":-16,"y":0.00886},{"p":4,"x":-9,"y":0.00369},{"p":4,"x":-1,"y":0.0012},{"p":4,"x":6,"y":0.0003},{"p":4,"x":20,"y":0.00001},{"p":4,"x":157,"y":0},
{"p":5,"x":-200,"y":0},{"p":5,"x":-76,"y":0.00001},{"p":5,"x":-64,"y":0.00035},{"p":5,"x":-57,"y":0.0014},{"p":5,"x":-51,"y":0.00432},{"p":5,"x":-45,"y":0.01036},{"p":5,"x":-39,"y":0.01935},{"p":5,"x":-32,"y":0.02815},{"p":5,"x":-26,"y":0.0319},{"p":5,"x":-20,"y":0.02815},{"p":5,"x":-14,"y":0.01935},{"p":5,"x":-7,"y":0.01036},{"p":5,"x":-1,"y":0.00432},{"p":5,"x":5,"y":0.0014},{"p":5,"x":12,"y":0.00035},{"p":5,"x":24,"y":0.00001},{"p":5,"x":157,"y":0},
{"p":6,"x":-200,"y":0},{"p":6,"x":-68,"y":0.00001},{"p":6,"x":-56,"y":0.00037},{"p":6,"x":-50,"y":0.00146},{"p":6,"x":-44,"y":0.00449},{"p":6,"x":-38,"y":0.01078},{"p":6,"x":-32,"y":0.02014},{"p":6,"x":-26,"y":0.0293},{"p":6,"x":-20,"y":0.0332},{"p":6,"x":-14,"y":0.0293},{"p":6,"x":-8,"y":0.02014},{"p":6,"x":-2,"y":0.01078},{"p":6,"x":4,"y":0.00449},{"p":6,"x":10,"y":0.00146},{"p":6,"x":16,"y":0.00037},{"p":6,"x":28,"y":0.00001},{"p":6,"x":157,"y":0},
{"p":7,"x":-200,"y":0},{"p":7,"x":-115,"y":0.00001},{"p":7,"x":-90,"y":0.00018},{"p":7,"x":-78,"y":0.00071},{"p":7,"x":-66,"y":0.00218},{"p":7,"x":-53,"y":0.00523},{"p":7,"x":-41,"y":0.00976},{"p":7,"x":-28,"y":0.01421},{"p":7,"x":-16,"y":0.0161},{"p":7,"x":-4,"y":0.01421},{"p":7,"x":9,"y":0.00976},{"p":7,"x":21,"y":0.00523},{"p":7,"x":34,"y":0.00218},{"p":7,"x":46,"y":0.00071},{"p":7,"x":58,"y":0.00018},{"p":7,"x":83,"y":0.00001},{"p":7,"x":157,"y":0},
{"p":8,"x":-200,"y":0},{"p":8,"x":-159,"y":0.00001},{"p":8,"x":-131,"y":0.00016},{"p":8,"x":-116,"y":0.00061},{"p":8,"x":-102,"y":0.00189},{"p":8,"x":-88,"y":0.00455},{"p":8,"x":-74,"y":0.00849},{"p":8,"x":-59,"y":0.01236},{"p":8,"x":-45,"y":0.014},{"p":8,"x":-31,"y":0.01236},{"p":8,"x":-17,"y":0.00849},{"p":8,"x":-2,"y":0.00455},{"p":8,"x":12,"y":0.00189},{"p":8,"x":26,"y":0.00061},{"p":8,"x":41,"y":0.00016},{"p":8,"x":69,"y":0.00001},{"p":8,"x":157,"y":0},
{"p":9,"x":-200,"y":0},{"p":9,"x":-169,"y":0.00001},{"p":9,"x":-142,"y":0.00016},{"p":9,"x":-128,"y":0.00064},{"p":9,"x":-114,"y":0.00198},{"p":9,"x":-101,"y":0.00476},{"p":9,"x":-87,"y":0.00889},{"p":9,"x":-74,"y":0.01294},{"p":9,"x":-60,"y":0.01466},{"p":9,"x":-46,"y":0.01294},{"p":9,"x":-33,"y":0.00889},{"p":9,"x":-19,"y":0.00476},{"p":9,"x":-6,"y":0.00198},{"p":9,"x":8,"y":0.00064},{"p":9,"x":22,"y":0.00016},{"p":9,"x":49,"y":0.00001},{"p":9,"x":157,"y":0}],
"ra":[
{"p":1,"x":-200,"y":0},{"p":1,"x":-47,"y":0.00002},{"p":1,"x":-38,"y":0.00049},{"p":1,"x":-33.5,"y":0.00195},{"p":1,"x":-29,"y":0.006},{"p":1,"x":-24.5,"y":0.0144},{"p":1,"x":-20,"y":0.0269},{"p":1,"x":-15.5,"y":0.0391},{"p":1,"x":-11,"y":0.0443},{"p":1,"x":-6.5,"y":0.0391},{"p":1,"x":-2,"y":0.0269},{"p":1,"x":2.5,"y":0.0144},{"p":1,"x":7,"y":0.006},{"p":1,"x":11.5,"y":0.00195},{"p":1,"x":16,"y":0.00049},{"p":1,"x":25,"y":0.00002},{"p":1,"x":157,"y":0},
{"p":2,"x":-200,"y":0},{"p":2,"x":-15.5,"y":0},{"p":2,"x":-14.5,"y":0.2},{"p":2,"x":-13.5,"y":0.2},{"p":2,"x":-12.5,"y":0},{"p":2,"x":157,"y":0},
{"p":3,"x":-200,"y":0},{"p":3,"x":3.5,"y":0},{"p":3,"x":4.5,"y":0.2},{"p":3,"x":5.5,"y":0.2},{"p":3,"x":6.5,"y":0},{"p":3,"x":157,"y":0},
{"p":4,"x":-200,"y":0},{"p":4,"x":-35,"y":0.00002},{"p":4,"x":-28,"y":0.00063},{"p":4,"x":-24.5,"y":0.0025},{"p":4,"x":-21,"y":0.0077},{"p":4,"x":-17.5,"y":0.0185},{"p":4,"x":-14,"y":0.0346},{"p":4,"x":-10.5,"y":0.0503},{"p":4,"x":-7,"y":0.057},{"p":4,"x":-3.5,"y":0.0503},{"p":4,"x":0,"y":0.0346},{"p":4,"x":3.5,"y":0.0185},{"p":4,"x":7,"y":0.0077},{"p":4,"x":10.5,"y":0.0025},{"p":4,"x":14,"y":0.00063},{"p":4,"x":21,"y":0.00002},{"p":4,"x":157,"y":0},
{"p":5,"x":-200,"y":0},{"p":5,"x":-31,"y":0.00002},{"p":5,"x":-24,"y":0.00063},{"p":5,"x":-20.5,"y":0.0025},{"p":5,"x":-17,"y":0.0077},{"p":5,"x":-13.5,"y":0.0185},{"p":5,"x":-10,"y":0.0346},{"p":5,"x":-6.5,"y":0.0503},{"p":5,"x":-3,"y":0.057},{"p":5,"x":0.5,"y":0.0503},{"p":5,"x":4,"y":0.0346},{"p":5,"x":7.5,"y":0.0185},{"p":5,"x":11,"y":0.0077},{"p":5,"x":14.5,"y":0.0025},{"p":5,"x":18,"y":0.00063},{"p":5,"x":25,"y":0.00002},{"p":5,"x":157,"y":0},
{"p":6,"x":-200,"y":0},{"p":6,"x":-59,"y":0.00001},{"p":6,"x":-45,"y":0.00032},{"p":6,"x":-38,"y":0.00125},{"p":6,"x":-31,"y":0.00386},{"p":6,"x":-24,"y":0.00925},{"p":6,"x":-17,"y":0.01729},{"p":6,"x":-10,"y":0.02515},{"p":6,"x":-3,"y":0.0285},{"p":6,"x":4,"y":0.02515},{"p":6,"x":11,"y":0.01729},{"p":6,"x":18,"y":0.00925},{"p":6,"x":25,"y":0.00386},{"p":6,"x":32,"y":0.00125},{"p":6,"x":39,"y":0.00032},{"p":6,"x":53,"y":0.00001},{"p":6,"x":157,"y":0},
{"p":7,"x":-200,"y":0},{"p":7,"x":-4.5,"y":0},{"p":7,"x":-3.5,"y":0.2},{"p":7,"x":-2.5,"y":0.2},{"p":7,"x":-1.5,"y":0},{"p":7,"x":157,"y":0},
{"p":8,"x":-200,"y":0},{"p":8,"x":-5.5,"y":0},{"p":8,"x":-4.5,"y":0.2},{"p":8,"x":-3.5,"y":0.2},{"p":8,"x":-2.5,"y":0},{"p":8,"x":157,"y":0},
{"p":9,"x":-200,"y":0},{"p":9,"x":-7.5,"y":0},{"p":9,"x":-6.5,"y":0.2},{"p":9,"x":-5.5,"y":0.2},{"p":9,"x":-4.5,"y":0},{"p":9,"x":157,"y":0}],
"leg":[{"s":"MCMC"},{"s":"QVIRL"},{"s":"AVRIL"}]
},
"spacing":17.2,
"resolve":{"scale":{"color":"independent","fill":"independent","stroke":"independent","shape":"independent","strokeDash":"independent"}},
"vconcat":[
{"hconcat":[
 {"data":{"name":"gt"},"width":440,"height":404,"view":{"fill":null,"stroke":null},
  "title":{"text":"Ground-truth rewards","fontSize":30,"anchor":"middle","frame":"group","dx":20,"offset":-2},
  "encoding":{"x":{"field":"c","type":"ordinal","axis":null,"scale":{"paddingInner":0,"paddingOuter":0.15,"align":1}},"y":{"field":"r","type":"ordinal","axis":null,"scale":{"paddingInner":0,"paddingOuter":0.0188,"align":1}}},
  "layer":[
   {"mark":{"type":"rect"},"encoding":{"color":{"field":"v","type":"quantitative","scale":{"scheme":"redyellowgreen","domain":[-30,100]},"legend":null}}},
   {"mark":{"type":"text","fontSize":29.5,"color":"black"},"encoding":{"text":{"field":"t"}}}
  ]},
 {"data":{"name":"sa"},"width":411,"height":411,
  "title":{"text":"State-action counts in demonstrations","fontSize":15,"anchor":"middle","frame":"group","offset":1.2},
  "encoding":{"x":{"field":"c","type":"ordinal","axis":null,"scale":{"paddingInner":0,"paddingOuter":0}},"y":{"field":"r","type":"ordinal","axis":null,"scale":{"paddingInner":0,"paddingOuter":0}}},
  "layer":[
   {"transform":[{"filter":"datum.v != null"}],"mark":{"type":"rect"},"encoding":{"color":{"field":"v","type":"quantitative","scale":{"scheme":"redyellowgreen","domain":[0,6]},"legend":null}}},
   {"mark":{"type":"text","fontSize":14.3,"color":"black"},"encoding":{"text":{"field":"t"}}}
  ]}
 ],"spacing":23.4,"bounds":"flush","resolve":{"scale":{"color":"independent","fill":"independent","stroke":"independent","shape":"independent","strokeDash":"independent"}}},
{"hconcat":[
 {"title":{"text":"Marginal posterior over the value at each state","fontSize":13.4,"anchor":"middle","offset":-2.25,"dx":21.3},
  "spacing":-2.7,"resolve":{"scale":{"color":"independent","fill":"independent","stroke":"independent","shape":"independent","strokeDash":"independent"}},
  "vconcat":[
   {"hconcat":[
    {"width":140,"height":139,"encoding":{"x":{"field":"x","type":"quantitative","scale":{"domain":[-325,278],"nice":false,"zero":false},"axis":{"values":[-200,0,200],"labels":false,"title":null}},"y":{"field":"y","type":"quantitative","scale":{"domain":[0,0.008],"nice":false},"axis":{"values":[0,0.002,0.004,0.006,0.008],"format":".3f","title":null}}},"layer":[{"data":{"name":"vh"},"transform":[{"filter":"datum.p==1"}],"mark":{"type":"bar","width":2.4,"fill":"#1f77b4","stroke":"white","strokeWidth":0.5,"clip":true}},{"data":{"name":"vq"},"transform":[{"filter":"datum.p==1"}],"mark":{"type":"line","stroke":"purple","strokeWidth":1.7,"interpolate":"monotone","clip":true},"encoding":{}},{"data":{"name":"va"},"transform":[{"filter":"datum.p==1"}],"mark":{"type":"rule","stroke":"orange","strokeWidth":1.7,"strokeDash":[5.5,2.2]},"encoding":{"y":{"datum":0},"y2":{"datum":0.008}}}]},
    {"width":140,"height":139,"encoding":{"x":{"field":"x","type":"quantitative","scale":{"domain":[-325,278],"nice":false,"zero":false},"axis":{"values":[-200,0,200],"labels":false,"title":null}},"y":{"field":"y","type":"quantitative","scale":{"domain":[0,0.008],"nice":false},"axis":{"values":[0,0.002,0.004,0.006,0.008],"labels":false,"title":null}}},"layer":[{"data":{"name":"vh"},"transform":[{"filter":"datum.p==2"}],"mark":{"type":"bar","width":2.4,"fill":"#1f77b4","stroke":"white","strokeWidth":0.5,"clip":true}},{"data":{"name":"vq"},"transform":[{"filter":"datum.p==2"}],"mark":{"type":"line","stroke":"purple","strokeWidth":1.7,"interpolate":"monotone","clip":true},"encoding":{}},{"data":{"name":"va"},"transform":[{"filter":"datum.p==2"}],"mark":{"type":"rule","stroke":"orange","strokeWidth":1.7,"strokeDash":[5.5,2.2]},"encoding":{"y":{"datum":0},"y2":{"datum":0.008}}}]},
    {"width":140,"height":139,"encoding":{"x":{"field":"x","type":"quantitative","scale":{"domain":[-325,278],"nice":false,"zero":false},"axis":{"values":[-200,0,200],"labels":false,"title":null}},"y":{"field":"y","type":"quantitative","scale":{"domain":[0,0.008],"nice":false},"axis":{"values":[0,0.002,0.004,0.006,0.008],"labels":false,"title":null}}},"layer":[{"data":{"name":"vh"},"transform":[{"filter":"datum.p==3"}],"mark":{"type":"bar","width":2.4,"fill":"#1f77b4","stroke":"white","strokeWidth":0.5,"clip":true}},{"data":{"name":"vq"},"transform":[{"filter":"datum.p==3"}],"mark":{"type":"line","stroke":"purple","strokeWidth":1.7,"interpolate":"monotone","clip":true},"encoding":{}},{"data":{"name":"va"},"transform":[{"filter":"datum.p==3"}],"mark":{"type":"rule","stroke":"orange","strokeWidth":1.7,"strokeDash":[5.5,2.2]},"encoding":{"y":{"datum":0},"y2":{"datum":0.008}}}]}
   ],"spacing":7.5,"bounds":"flush"},
   {"hconcat":[
    {"width":140,"height":139,"encoding":{"x":{"field":"x","type":"quantitative","scale":{"domain":[-325,278],"nice":false,"zero":false},"axis":{"values":[-200,0,200],"labels":false,"title":null}},"y":{"field":"y","type":"quantitative","scale":{"domain":[0,0.008],"nice":false},"axis":{"values":[0,0.002,0.004,0.006,0.008],"format":".3f","title":"Density"}}},"layer":[{"data":{"name":"vh"},"transform":[{"filter":"datum.p==4"}],"mark":{"type":"bar","width":2.4,"fill":"#1f77b4","stroke":"white","strokeWidth":0.5,"clip":true}},{"data":{"name":"vq"},"transform":[{"filter":"datum.p==4"}],"mark":{"type":"line","stroke":"purple","strokeWidth":1.7,"interpolate":"monotone","clip":true},"encoding":{}},{"data":{"name":"va"},"transform":[{"filter":"datum.p==4"}],"mark":{"type":"rule","stroke":"orange","strokeWidth":1.7,"strokeDash":[5.5,2.2]},"encoding":{"y":{"datum":0},"y2":{"datum":0.008}}}]},
    {"width":140,"height":139,"encoding":{"x":{"field":"x","type":"quantitative","scale":{"domain":[-325,278],"nice":false,"zero":false},"axis":{"values":[-200,0,200],"labels":false,"title":null}},"y":{"field":"y","type":"quantitative","scale":{"domain":[0,0.008],"nice":false},"axis":{"values":[0,0.002,0.004,0.006,0.008],"labels":false,"title":null}}},"layer":[{"data":{"name":"vh"},"transform":[{"filter":"datum.p==5"}],"mark":{"type":"bar","width":2.4,"fill":"#1f77b4","stroke":"white","strokeWidth":0.5,"clip":true}},{"data":{"name":"vq"},"transform":[{"filter":"datum.p==5"}],"mark":{"type":"line","stroke":"purple","strokeWidth":1.7,"interpolate":"monotone","clip":true},"encoding":{}},{"data":{"name":"va"},"transform":[{"filter":"datum.p==5"}],"mark":{"type":"rule","stroke":"orange","strokeWidth":1.7,"strokeDash":[5.5,2.2]},"encoding":{"y":{"datum":0},"y2":{"datum":0.008}}}]},
    {"width":140,"height":139,"encoding":{"x":{"field":"x","type":"quantitative","scale":{"domain":[-325,278],"nice":false,"zero":false},"axis":{"values":[-200,0,200],"labels":false,"title":null}},"y":{"field":"y","type":"quantitative","scale":{"domain":[0,0.008],"nice":false},"axis":{"values":[0,0.002,0.004,0.006,0.008],"labels":false,"title":null}}},"layer":[{"data":{"name":"vh"},"transform":[{"filter":"datum.p==6"}],"mark":{"type":"bar","width":2.4,"fill":"#1f77b4","stroke":"white","strokeWidth":0.5,"clip":true}},{"data":{"name":"vq"},"transform":[{"filter":"datum.p==6"}],"mark":{"type":"line","stroke":"purple","strokeWidth":1.7,"interpolate":"monotone","clip":true},"encoding":{}},{"data":{"name":"va"},"transform":[{"filter":"datum.p==6"}],"mark":{"type":"rule","stroke":"orange","strokeWidth":1.7,"strokeDash":[5.5,2.2]},"encoding":{"y":{"datum":0},"y2":{"datum":0.008}}}]}
   ],"spacing":7.5,"bounds":"flush"},
   {"hconcat":[
    {"width":140,"height":139,"encoding":{"x":{"field":"x","type":"quantitative","scale":{"domain":[-325,278],"nice":false,"zero":false},"axis":{"values":[-200,0,200],"title":null}},"y":{"field":"y","type":"quantitative","scale":{"domain":[0,0.008],"nice":false},"axis":{"values":[0,0.002,0.004,0.006,0.008],"format":".3f","title":null}}},"layer":[{"data":{"name":"vh"},"transform":[{"filter":"datum.p==7"}],"mark":{"type":"bar","width":2.4,"fill":"#1f77b4","stroke":"white","strokeWidth":0.5,"clip":true}},{"data":{"name":"vq"},"transform":[{"filter":"datum.p==7"}],"mark":{"type":"line","stroke":"purple","strokeWidth":1.7,"interpolate":"monotone","clip":true},"encoding":{}},{"data":{"name":"va"},"transform":[{"filter":"datum.p==7"}],"mark":{"type":"rule","stroke":"orange","strokeWidth":1.7,"strokeDash":[5.5,2.2]},"encoding":{"y":{"datum":0},"y2":{"datum":0.008}}}]},
    {"width":140,"height":139,"encoding":{"x":{"field":"x","type":"quantitative","scale":{"domain":[-325,278],"nice":false,"zero":false},"axis":{"values":[-200,0,200],"title":"State value V"}},"y":{"field":"y","type":"quantitative","scale":{"domain":[0,0.008],"nice":false},"axis":{"values":[0,0.002,0.004,0.006,0.008],"labels":false,"title":null}}},"layer":[{"data":{"name":"vh"},"transform":[{"filter":"datum.p==8"}],"mark":{"type":"bar","width":2.4,"fill":"#1f77b4","stroke":"white","strokeWidth":0.5,"clip":true}},{"data":{"name":"vq"},"transform":[{"filter":"datum.p==8"}],"mark":{"type":"line","stroke":"purple","strokeWidth":1.7,"interpolate":"monotone","clip":true},"encoding":{}},{"data":{"name":"va"},"transform":[{"filter":"datum.p==8"}],"mark":{"type":"rule","stroke":"orange","strokeWidth":1.7,"strokeDash":[5.5,2.2]},"encoding":{"y":{"datum":0},"y2":{"datum":0.008}}}]},
    {"width":140,"height":139,"encoding":{"x":{"field":"x","type":"quantitative","scale":{"domain":[-325,278],"nice":false,"zero":false},"axis":{"values":[-200,0,200],"title":null}},"y":{"field":"y","type":"quantitative","scale":{"domain":[0,0.008],"nice":false},"axis":{"values":[0,0.002,0.004,0.006,0.008],"labels":false,"title":null}}},"layer":[
      {"data":{"name":"vh"},"transform":[{"filter":"datum.p==9"}],"mark":{"type":"bar","width":2.4,"fill":"#1f77b4","stroke":"white","strokeWidth":0.5,"clip":true}},
      {"data":{"name":"vq"},"transform":[{"filter":"datum.p==9"}],"mark":{"type":"line","stroke":"purple","strokeWidth":1.7,"interpolate":"monotone","clip":true},"encoding":{}},
      {"data":{"name":"va"},"transform":[{"filter":"datum.p==9"}],"mark":{"type":"rule","stroke":"orange","strokeWidth":1.7,"strokeDash":[5.5,2.2]},"encoding":{"y":{"datum":0},"y2":{"datum":0.008}}},
      {"data":{"name":"leg"},"mark":{"type":"point","opacity":1,"strokeWidth":1.7},"encoding":{
        "fill":{"field":"s","type":"nominal","scale":{"domain":["MCMC","QVIRL","AVRIL"],"range":["#1f77b4","transparent","transparent"]},
          "legend":{"title":null,"orient":"none","legendX":-35,"legendY":16.3,"symbolSize":144,"symbolStrokeWidth":1.7,"rowPadding":4.9,"labelOffset":20.5,"padding":3.5,"labelFontSize":10.8,"labelColor":"#262626","fillColor":"rgba(234,234,242,0.8)","strokeColor":"#cccccc","cornerRadius":3}},
        "stroke":{"field":"s","type":"nominal","scale":{"domain":["MCMC","QVIRL","AVRIL"],"range":["transparent","purple","orange"]}},
        "shape":{"field":"s","type":"nominal","scale":{"domain":["MCMC","QVIRL","AVRIL"],"range":["M-0.85,-0.63H2.85V0.63H-0.85Z","M-0.85,0H2.85","M-0.85,0H2.85"]}},
        "strokeDash":{"field":"s","type":"nominal","scale":{"domain":["MCMC","QVIRL","AVRIL"],"range":[[1,0],[1,0],[5,2]]}}}}]}
   ],"spacing":7.5,"bounds":"flush","resolve":{"scale":{"color":"independent","fill":"independent","stroke":"independent","shape":"independent","strokeDash":"independent"}}}
  ]},
 {"title":{"text":"Marginal posterior over the reward at each state","fontSize":13.4,"anchor":"middle","offset":8.45,"dx":20.8},
  "spacing":2.4,"resolve":{"scale":{"color":"independent","fill":"independent","stroke":"independent","shape":"independent","strokeDash":"independent"}},
  "vconcat":[
   {"hconcat":[
    {"width":140,"height":139,"encoding":{"x":{"field":"x","type":"quantitative","scale":{"domain":[-200,157],"nice":false,"zero":false},"axis":{"values":[-200,-100,0,100],"labels":false,"title":null}},"y":{"field":"y","type":"quantitative","scale":{"domain":[0,0.0292],"nice":false},"axis":{"values":[0,0.005,0.01,0.015,0.02,0.025],"format":".3f","title":null}}},"layer":[{"data":{"name":"rh"},"transform":[{"filter":"datum.p==1"}],"mark":{"type":"bar","width":2.6,"fill":"#1f77b4","stroke":"white","strokeWidth":0.5,"clip":true}},{"data":{"name":"rq"},"transform":[{"filter":"datum.p==1"}],"mark":{"type":"line","stroke":"purple","strokeWidth":1.7,"interpolate":"monotone","clip":true},"encoding":{}},{"data":{"name":"ra"},"transform":[{"filter":"datum.p==1"}],"mark":{"type":"line","stroke":"#ff7f0e","strokeWidth":1.8,"interpolate":"monotone","clip":true},"encoding":{}}]},
    {"width":140,"height":139,"encoding":{"x":{"field":"x","type":"quantitative","scale":{"domain":[-200,157],"nice":false,"zero":false},"axis":{"values":[-200,-100,0,100],"labels":false,"title":null}},"y":{"field":"y","type":"quantitative","scale":{"domain":[0,0.0292],"nice":false},"axis":{"values":[0,0.005,0.01,0.015,0.02,0.025],"labels":false,"title":null}}},"layer":[{"data":{"name":"rh"},"transform":[{"filter":"datum.p==2"}],"mark":{"type":"bar","width":2.6,"fill":"#1f77b4","stroke":"white","strokeWidth":0.5,"clip":true}},{"data":{"name":"rq"},"transform":[{"filter":"datum.p==2"}],"mark":{"type":"line","stroke":"purple","strokeWidth":1.7,"interpolate":"monotone","clip":true},"encoding":{}},{"data":{"name":"ra"},"transform":[{"filter":"datum.p==2"}],"mark":{"type":"line","stroke":"#ff7f0e","strokeWidth":1.8,"interpolate":"monotone","clip":true},"encoding":{}}]},
    {"width":140,"height":139,"encoding":{"x":{"field":"x","type":"quantitative","scale":{"domain":[-200,157],"nice":false,"zero":false},"axis":{"values":[-200,-100,0,100],"labels":false,"title":null}},"y":{"field":"y","type":"quantitative","scale":{"domain":[0,0.0292],"nice":false},"axis":{"values":[0,0.005,0.01,0.015,0.02,0.025],"labels":false,"title":null}}},"layer":[{"data":{"name":"rh"},"transform":[{"filter":"datum.p==3"}],"mark":{"type":"bar","width":2.6,"fill":"#1f77b4","stroke":"white","strokeWidth":0.5,"clip":true}},{"data":{"name":"rq"},"transform":[{"filter":"datum.p==3"}],"mark":{"type":"line","stroke":"purple","strokeWidth":1.7,"interpolate":"monotone","clip":true},"encoding":{}},{"data":{"name":"ra"},"transform":[{"filter":"datum.p==3"}],"mark":{"type":"line","stroke":"#ff7f0e","strokeWidth":1.8,"interpolate":"monotone","clip":true},"encoding":{}}]}
   ],"spacing":7.3,"bounds":"flush"},
   {"hconcat":[
    {"width":140,"height":139,"encoding":{"x":{"field":"x","type":"quantitative","scale":{"domain":[-200,157],"nice":false,"zero":false},"axis":{"values":[-200,-100,0,100],"labels":false,"title":null}},"y":{"field":"y","type":"quantitative","scale":{"domain":[0,0.0292],"nice":false},"axis":{"values":[0,0.005,0.01,0.015,0.02,0.025],"format":".3f","title":"Density"}}},"layer":[{"data":{"name":"rh"},"transform":[{"filter":"datum.p==4"}],"mark":{"type":"bar","width":2.6,"fill":"#1f77b4","stroke":"white","strokeWidth":0.5,"clip":true}},{"data":{"name":"rq"},"transform":[{"filter":"datum.p==4"}],"mark":{"type":"line","stroke":"purple","strokeWidth":1.7,"interpolate":"monotone","clip":true},"encoding":{}},{"data":{"name":"ra"},"transform":[{"filter":"datum.p==4"}],"mark":{"type":"line","stroke":"#ff7f0e","strokeWidth":1.8,"interpolate":"monotone","clip":true},"encoding":{}}]},
    {"width":140,"height":139,"encoding":{"x":{"field":"x","type":"quantitative","scale":{"domain":[-200,157],"nice":false,"zero":false},"axis":{"values":[-200,-100,0,100],"labels":false,"title":null}},"y":{"field":"y","type":"quantitative","scale":{"domain":[0,0.0292],"nice":false},"axis":{"values":[0,0.005,0.01,0.015,0.02,0.025],"labels":false,"title":null}}},"layer":[{"data":{"name":"rh"},"transform":[{"filter":"datum.p==5"}],"mark":{"type":"bar","width":2.6,"fill":"#1f77b4","stroke":"white","strokeWidth":0.5,"clip":true}},{"data":{"name":"rq"},"transform":[{"filter":"datum.p==5"}],"mark":{"type":"line","stroke":"purple","strokeWidth":1.7,"interpolate":"monotone","clip":true},"encoding":{}},{"data":{"name":"ra"},"transform":[{"filter":"datum.p==5"}],"mark":{"type":"line","stroke":"#ff7f0e","strokeWidth":1.8,"interpolate":"monotone","clip":true},"encoding":{}}]},
    {"width":140,"height":139,"encoding":{"x":{"field":"x","type":"quantitative","scale":{"domain":[-200,157],"nice":false,"zero":false},"axis":{"values":[-200,-100,0,100],"labels":false,"title":null}},"y":{"field":"y","type":"quantitative","scale":{"domain":[0,0.0292],"nice":false},"axis":{"values":[0,0.005,0.01,0.015,0.02,0.025],"labels":false,"title":null}}},"layer":[{"data":{"name":"rh"},"transform":[{"filter":"datum.p==6"}],"mark":{"type":"bar","width":2.6,"fill":"#1f77b4","stroke":"white","strokeWidth":0.5,"clip":true}},{"data":{"name":"rq"},"transform":[{"filter":"datum.p==6"}],"mark":{"type":"line","stroke":"purple","strokeWidth":1.7,"interpolate":"monotone","clip":true},"encoding":{}},{"data":{"name":"ra"},"transform":[{"filter":"datum.p==6"}],"mark":{"type":"line","stroke":"#ff7f0e","strokeWidth":1.8,"interpolate":"monotone","clip":true},"encoding":{}}]}
   ],"spacing":7.3,"bounds":"flush"},
   {"hconcat":[
    {"width":140,"height":139,"encoding":{"x":{"field":"x","type":"quantitative","scale":{"domain":[-200,157],"nice":false,"zero":false},"axis":{"values":[-200,-100,0,100],"title":null}},"y":{"field":"y","type":"quantitative","scale":{"domain":[0,0.0292],"nice":false},"axis":{"values":[0,0.005,0.01,0.015,0.02,0.025],"format":".3f","title":null}}},"layer":[{"data":{"name":"rh"},"transform":[{"filter":"datum.p==7"}],"mark":{"type":"bar","width":2.6,"fill":"#1f77b4","stroke":"white","strokeWidth":0.5,"clip":true}},{"data":{"name":"rq"},"transform":[{"filter":"datum.p==7"}],"mark":{"type":"line","stroke":"purple","strokeWidth":1.7,"interpolate":"monotone","clip":true},"encoding":{}},{"data":{"name":"ra"},"transform":[{"filter":"datum.p==7"}],"mark":{"type":"line","stroke":"#ff7f0e","strokeWidth":1.8,"interpolate":"monotone","clip":true},"encoding":{}}]},
    {"width":140,"height":139,"encoding":{"x":{"field":"x","type":"quantitative","scale":{"domain":[-200,157],"nice":false,"zero":false},"axis":{"values":[-200,-100,0,100],"title":"Reward"}},"y":{"field":"y","type":"quantitative","scale":{"domain":[0,0.0292],"nice":false},"axis":{"values":[0,0.005,0.01,0.015,0.02,0.025],"labels":false,"title":null}}},"layer":[{"data":{"name":"rh"},"transform":[{"filter":"datum.p==8"}],"mark":{"type":"bar","width":2.6,"fill":"#1f77b4","stroke":"white","strokeWidth":0.5,"clip":true}},{"data":{"name":"rq"},"transform":[{"filter":"datum.p==8"}],"mark":{"type":"line","stroke":"purple","strokeWidth":1.7,"interpolate":"monotone","clip":true},"encoding":{}},{"data":{"name":"ra"},"transform":[{"filter":"datum.p==8"}],"mark":{"type":"line","stroke":"#ff7f0e","strokeWidth":1.8,"interpolate":"monotone","clip":true},"encoding":{}}]},
    {"width":140,"height":139,"encoding":{"x":{"field":"x","type":"quantitative","scale":{"domain":[-200,157],"nice":false,"zero":false},"axis":{"values":[-200,-100,0,100],"title":null}},"y":{"field":"y","type":"quantitative","scale":{"domain":[0,0.0292],"nice":false},"axis":{"values":[0,0.005,0.01,0.015,0.02,0.025],"labels":false,"title":null}}},"layer":[
      {"data":{"name":"rh"},"transform":[{"filter":"datum.p==9"}],"mark":{"type":"bar","width":2.6,"fill":"#1f77b4","stroke":"white","strokeWidth":0.5,"clip":true}},
      {"data":{"name":"rq"},"transform":[{"filter":"datum.p==9"}],"mark":{"type":"line","stroke":"purple","strokeWidth":1.7,"interpolate":"monotone","clip":true},"encoding":{}},
      {"data":{"name":"ra"},"transform":[{"filter":"datum.p==9"}],"mark":{"type":"line","stroke":"#ff7f0e","strokeWidth":1.8,"interpolate":"monotone","clip":true},"encoding":{}},
      {"data":{"name":"leg"},"mark":{"type":"point","opacity":1,"strokeWidth":1.8},"encoding":{
        "fill":{"field":"s","type":"nominal","scale":{"domain":["MCMC","QVIRL","AVRIL"],"range":["#1f77b4","transparent","transparent"]},
          "legend":{"title":null,"orient":"none","legendX":-29.3,"legendY":22.6,"symbolSize":144,"symbolStrokeWidth":1.8,"rowPadding":4.4,"labelOffset":20.5,"padding":3.5,"labelFontSize":10.8,"labelColor":"#262626","fillColor":"rgba(234,234,242,0.8)","strokeColor":"#cccccc","cornerRadius":3}},
        "stroke":{"field":"s","type":"nominal","scale":{"domain":["MCMC","QVIRL","AVRIL"],"range":["transparent","purple","#ff7f0e"]}},
        "shape":{"field":"s","type":"nominal","scale":{"domain":["MCMC","QVIRL","AVRIL"],"range":["M-0.85,-0.63H2.85V0.63H-0.85Z","M-0.85,0H2.85","M-0.85,0H2.85"]}}}}]}
   ],"spacing":7.3,"bounds":"flush","resolve":{"scale":{"color":"independent","fill":"independent","stroke":"independent","shape":"independent","strokeDash":"independent"}}}
  ]}
 ],"spacing":38,"resolve":{"scale":{"color":"independent","fill":"independent","stroke":"independent","shape":"independent","strokeDash":"independent"}}}
]
}
